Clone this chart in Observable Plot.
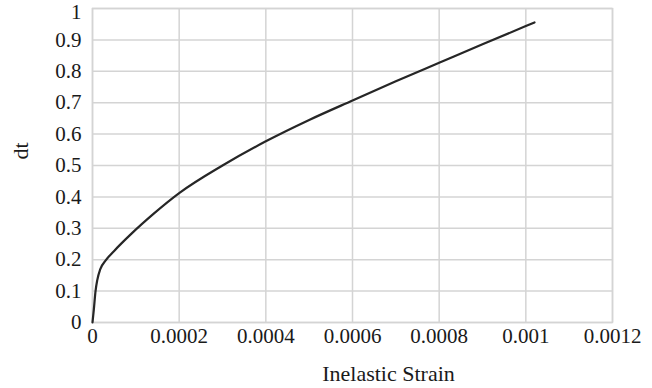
<!DOCTYPE html>
<html><head><meta charset="utf-8">
<script src="https://cdn.jsdelivr.net/npm/d3@7"></script>
<script src="https://cdn.jsdelivr.net/npm/@observablehq/plot@0.6"></script>
<style>
body{margin:0;background:#fff}
svg, svg text, svg g{font-family:"Liberation Serif","Times New Roman",Times,serif !important}
</style>
</head><body><div id="chart"></div>
<script>
const strain = [0, 0.000003, 0.000007, 0.000011, 0.000018, 0.00003, 0.00005, 0.00009, 0.00014, 0.0002, 0.0003, 0.0004, 0.0005, 0.0006, 0.0007, 0.0008, 0.0009, 0.001, 0.00102];
const dt =     [0, 0.04,     0.10,     0.135,    0.17,     0.197,   0.228,   0.283,   0.345,   0.412,  0.500,  0.577,  0.645,  0.707,  0.768,  0.827,  0.886,  0.944, 0.9555];
const xTicks = [0, 0.0002, 0.0004, 0.0006, 0.0008, 0.001, 0.0012];
const xTickLabels = ["0", "0.0002", "0.0004", "0.0006", "0.0008", "0.001", "0.0012"];
const yTicks = [0, 0.1, 0.2, 0.3, 0.4, 0.5, 0.6, 0.7, 0.8, 0.9, 1];
const yTickLabels = ["0", "0.1", "0.2", "0.3", "0.4", "0.5", "0.6", "0.7", "0.8", "0.9", "1"];
const xLabel = "Inelastic Strain";
const yLabel = "dt";

const data = strain.map((x, i) => ({x, y: dt[i]}));
const gridColor = "#d4d4d4";
const textColor = "#1a1a1a";
const serif = "Liberation Serif";
const yLast = yTicks[yTicks.length - 1];
const chart = Plot.plot({
  width: 652, height: 388,
  marginLeft: 92, marginRight: 40, marginTop: 8, marginBottom: 66,
  style: {fontFamily: serif, fontSize: "21px", color: textColor, background: "#fff"},
  x: {domain: [0, 0.0012]},
  y: {domain: [0, 1]},
  marks: [
    Plot.gridX(xTicks, {stroke: gridColor, strokeOpacity: 1, strokeWidth: 1.5}),
    Plot.gridY(yTicks, {stroke: gridColor, strokeOpacity: 1, strokeWidth: 1.5}),
    Plot.frame({stroke: gridColor, strokeWidth: 1.5}),
    Plot.axisX(xTicks, {tickSize: 0, tickPadding: 6, tickFormat: d => xTickLabels[xTicks.indexOf(d)], label: null, fontFamily: serif, fontSize: 21, letterSpacing: "0.8px", fill: textColor}),
    Plot.axisY(yTicks.filter(d => d !== yLast), {tickSize: 0, tickPadding: 11, tickFormat: d => yTickLabels[yTicks.indexOf(d)], label: null, fontFamily: serif, fontSize: 21, letterSpacing: "0.8px", fill: textColor}),
    Plot.axisY([yLast], {tickSize: 0, tickPadding: 11, dy: 4, tickFormat: d => yTickLabels[yTicks.indexOf(d)], label: null, fontFamily: serif, fontSize: 21, fill: textColor}),
    Plot.line(data, {x: "x", y: "y", stroke: "#262626", strokeWidth: 2.2, curve: "monotone-x"}),
    Plot.text([xLabel], {frameAnchor: "bottom", lineAnchor: "middle", dx: 36, dy: 51, fill: textColor, fontFamily: serif, fontSize: 22}),
    Plot.text([yLabel], {frameAnchor: "left", rotate: -90, dx: -72, dy: -6, fill: textColor, fontFamily: serif, fontSize: 22})
  ]
});
document.getElementById("chart").append(chart);
</script>
</body></html>
